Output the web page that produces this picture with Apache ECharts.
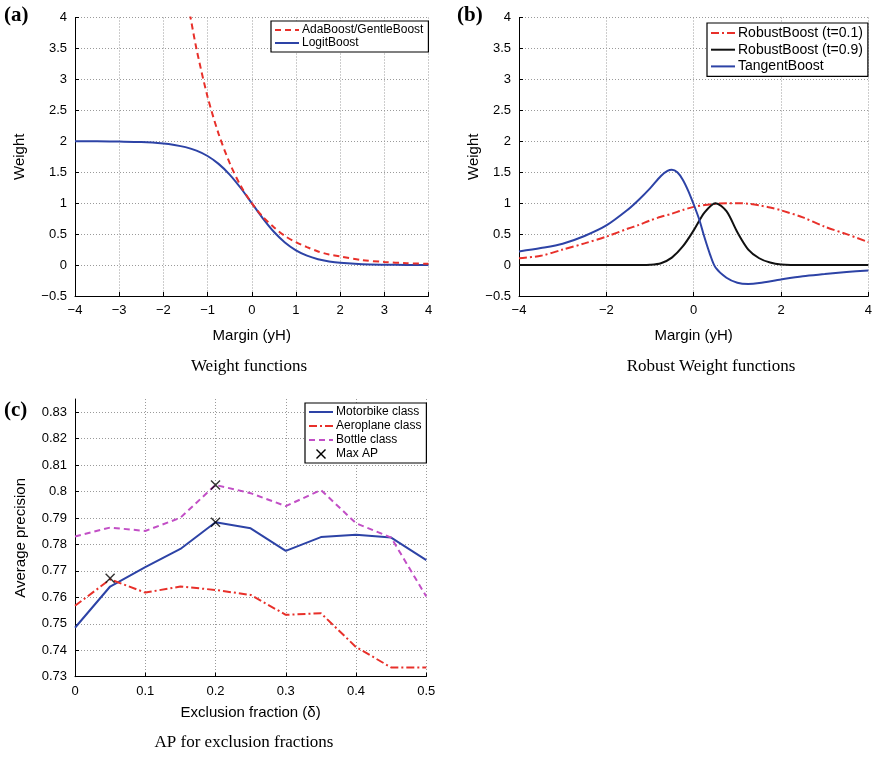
<!DOCTYPE html>
<html>
<head>
<meta charset="utf-8">
<script src="https://cdn.jsdelivr.net/npm/echarts@6/dist/echarts.min.js"></script>
<style>html,body{margin:0;padding:0;background:#fff;}#c{width:875px;height:758px;}</style>
</head>
<body>
<div id="c"></div>
<script>
// ---- Panel (a): Weight functions ----
const aLogitX = [-4,-3.5,-3,-2.5,-2,-1.75,-1.5,-1.25,-1,-0.75,-0.5,-0.25,0,0.25,0.5,0.75,1,1.25,1.5,1.75,2,2.5,3,3.5,4];
const aLogit  = [2.00,2.00,1.995,1.987,1.964,1.941,1.905,1.848,1.762,1.635,1.462,1.245,1.0,0.755,0.538,0.365,0.238,0.152,0.095,0.059,0.036,0.013,0.005,0.002,0.001];
const aAdaX   = [-1.4,-1.25,-1,-0.75,-0.5,-0.25,0,0.25,0.5,0.75,1,1.25,1.5,1.75,2,2.5,3,3.5,4];
const aAda    = [4.06,3.49,2.72,2.12,1.65,1.28,1.0,0.78,0.61,0.47,0.37,0.29,0.22,0.17,0.14,0.08,0.05,0.03,0.02];

// ---- Panel (b): Robust Weight functions ----
const bRobX   = [-4,-3.5,-3,-2.5,-2,-1.5,-1.25,-1,-0.75,-0.5,-0.25,0,0.25,0.5,0.75,1,1.25,1.5,1.75,2,2.5,3,3.5,4];
const bRob01  = [0.11,0.15,0.25,0.35,0.46,0.59,0.65,0.72,0.78,0.83,0.89,0.94,0.97,0.99,1.0,1.0,0.99,0.965,0.93,0.885,0.77,0.62,0.50,0.37];
const bRob09  = [0,0,0,0,0,0,0.001,0.005,0.03,0.12,0.3,0.56,0.85,1.0,0.87,0.53,0.25,0.11,0.04,0.01,0,0,0,0];
const bTanX   = [-4,-3.5,-3,-2.5,-2,-1.5,-1.25,-1,-0.75,-0.6,-0.5,-0.375,-0.25,-0.125,0,0.125,0.25,0.375,0.5,0.75,1,1.25,1.5,2,2.5,3,3.5,4];
const bTan    = [0.22,0.275,0.345,0.47,0.64,0.90,1.06,1.24,1.44,1.52,1.54,1.50,1.38,1.2,0.98,0.74,0.44,0.17,-0.04,-0.205,-0.285,-0.305,-0.29,-0.232,-0.18,-0.146,-0.113,-0.086];

// ---- Panel (c): AP for exclusion fractions ----
const cX         = [0,0.05,0.1,0.15,0.2,0.25,0.3,0.35,0.4,0.45,0.5];
const cMotorbike = [0.7485,0.7641,0.7714,0.7783,0.7884,0.7861,0.7776,0.7828,0.7837,0.7826,0.7741];
const cAeroplane = [0.7568,0.7668,0.7618,0.7641,0.7628,0.7609,0.7534,0.7540,0.7412,0.7335,0.7335];
const cBottle    = [0.7830,0.7864,0.7851,0.7901,0.8025,0.7994,0.7945,0.8006,0.7880,0.7826,0.7603];
const cMaxX      = [0.05,0.2,0.2];
const cMaxY      = [0.7672,0.8025,0.7884];

const pairs = (xs, ys) => xs.map((x, i) => [x, ys[i]]);
const BLUE = '#2d43a6', RED = '#e8302a', MAG = '#c24fc6', BLK = '#111111';
const SANS = 'Liberation Sans, Arial, sans-serif';
const SERIF = 'Liberation Serif, Times New Roman, serif';
const minus = v => String(v).replace('-', '\u2212');
const GRID_LINE = { show: true, lineStyle: { color: '#9a9a9a', type: [1, 2], width: 1 } };

function xAxis(gi, min, max, interval, name, nameGap) {
  return {
    type: 'value', gridIndex: gi, min, max, interval,
    name, nameLocation: 'middle', nameGap,
    nameTextStyle: { fontFamily: SANS, fontSize: 15, color: '#000' },
    axisLine: { onZero: false, lineStyle: { color: '#000', width: 1 } },
    axisTick: { inside: true, length: 4, lineStyle: { color: '#000' } },
    axisLabel: { fontFamily: SANS, fontSize: 13, color: '#000', margin: 8, formatter: minus },
    splitLine: GRID_LINE
  };
}
function yAxis(gi, min, max, interval, name, nameGap, labelExtra, splitExtra) {
  return {
    type: 'value', gridIndex: gi, min, max, interval,
    name, nameLocation: 'middle', nameGap, nameRotate: 90,
    nameTextStyle: { fontFamily: SANS, fontSize: 15, color: '#000' },
    axisLine: { show: true, onZero: false, lineStyle: { color: '#000', width: 1 } },
    axisTick: { show: true, inside: true, length: 4, lineStyle: { color: '#000' } },
    axisLabel: Object.assign({ fontFamily: SANS, fontSize: 13, color: '#000', margin: 8, formatter: minus }, labelExtra || {}),
    splitLine: Object.assign({}, GRID_LINE, splitExtra || {})
  };
}
function line(name, gi, data, color, type) {
  return {
    name, type: 'line', xAxisIndex: gi, yAxisIndex: gi, data,
    smooth: gi < 2 ? 0.3 : false, symbol: 'none', clip: true,
    lineStyle: { color, width: 2, type },
    itemStyle: { color }
  };
}
function legend(names, left, top, fontSize, itemGap) {
  return {
    data: names.map(n => n === 'Max AP'
      ? { name: n, itemStyle: { opacity: 1 } }
      : { name: n }),
    orient: 'vertical', left, top, itemGap,
    itemWidth: 24, itemHeight: 10, padding: [3, 5, 3, 3],
    borderColor: '#000', borderWidth: 1.2, backgroundColor: '#fff',
    itemStyle: { opacity: 0 },
    textStyle: { fontFamily: SANS, fontSize, color: '#000', padding: [0, 0, 0, -2] },
    selectedMode: false
  };
}

const XPATH = 'path://M0,1L1,0L5,4L9,0L10,1L6,5L10,9L9,10L5,6L1,10L0,9L4,5Z';

const chart = echarts.init(document.getElementById('c'));
chart.setOption({
  animation: false,
  backgroundColor: '#fff',
  grid: [
    { left: 75, top: 17.5, width: 353.5, height: 278.5 },
    { left: 519, top: 17.5, width: 350.5, height: 278.5 },
    { left: 75, top: 399, width: 351.3, height: 277.7 }
  ],
  xAxis: [
    xAxis(0, -4, 4, 1, 'Margin (yH)', 32),
    xAxis(1, -4, 4, 2, 'Margin (yH)', 32),
    xAxis(2, 0, 0.5, 0.1, 'Exclusion fraction (\u03b4)', 29)
  ],
  yAxis: [
    yAxis(0, -0.5, 4, 0.5, 'Weight', 48),
    yAxis(1, -0.5, 4, 0.5, 'Weight', 38),
    yAxis(2, 0.73, 0.835, 0.01, 'Average precision', 47,
      { showMaxLabel: false, formatter: v => String(+v.toFixed(2)) },
      { showMaxLine: false })
  ],
  legend: [
    legend(['AdaBoost/GentleBoost', 'LogitBoost'], 271, 21, 12, 1),
    legend(['RobustBoost (t=0.1)', 'RobustBoost (t=0.9)', 'TangentBoost'], 707, 23, 14, 2.7),
    legend(['Motorbike class', 'Aeroplane class', 'Bottle class', 'Max AP'], 305, 403, 12, 2)
  ],
  series: [
    line('LogitBoost', 0, pairs(aLogitX, aLogit), BLUE, 'solid'),
    line('AdaBoost/GentleBoost', 0, pairs(aAdaX, aAda), RED, [6, 4]),
    line('RobustBoost (t=0.1)', 1, pairs(bRobX, bRob01), RED, [8, 3, 2, 3]),
    line('RobustBoost (t=0.9)', 1, pairs(bRobX, bRob09), BLK, 'solid'),
    line('TangentBoost', 1, pairs(bTanX, bTan), BLUE, 'solid'),
    line('Motorbike class', 2, pairs(cX, cMotorbike), BLUE, 'solid'),
    line('Aeroplane class', 2, pairs(cX, cAeroplane), RED, [8, 3, 2, 3]),
    line('Bottle class', 2, pairs(cX, cBottle), MAG, [6, 4]),
    {
      name: 'Max AP', type: 'scatter', xAxisIndex: 2, yAxisIndex: 2,
      data: pairs(cMaxX, cMaxY), symbol: XPATH, symbolSize: 10, symbolKeepAspect: true,
      itemStyle: { color: '#000' }, z: 5
    }
  ],
  graphic: [
    { type: 'text', left: 4, top: 5, style: { text: '(a)', font: 'bold 21px ' + SERIF, fill: '#000' } },
    { type: 'text', left: 457, top: 5, style: { text: '(b)', font: 'bold 21px ' + SERIF, fill: '#000' } },
    { type: 'text', left: 4, top: 400, style: { text: '(c)', font: 'bold 21px ' + SERIF, fill: '#000' } },
    { type: 'text', x: 249, y: 367, style: { text: 'Weight functions', font: '17px ' + SERIF, fill: '#000', align: 'center', verticalAlign: 'middle' } },
    { type: 'text', x: 711, y: 367, style: { text: 'Robust Weight functions', font: '17px ' + SERIF, fill: '#000', align: 'center', verticalAlign: 'middle' } },
    { type: 'text', x: 244, y: 743, style: { text: 'AP for exclusion fractions', font: '17px ' + SERIF, fill: '#000', align: 'center', verticalAlign: 'middle' } }
  ]
});
</script>
</body>
</html>
